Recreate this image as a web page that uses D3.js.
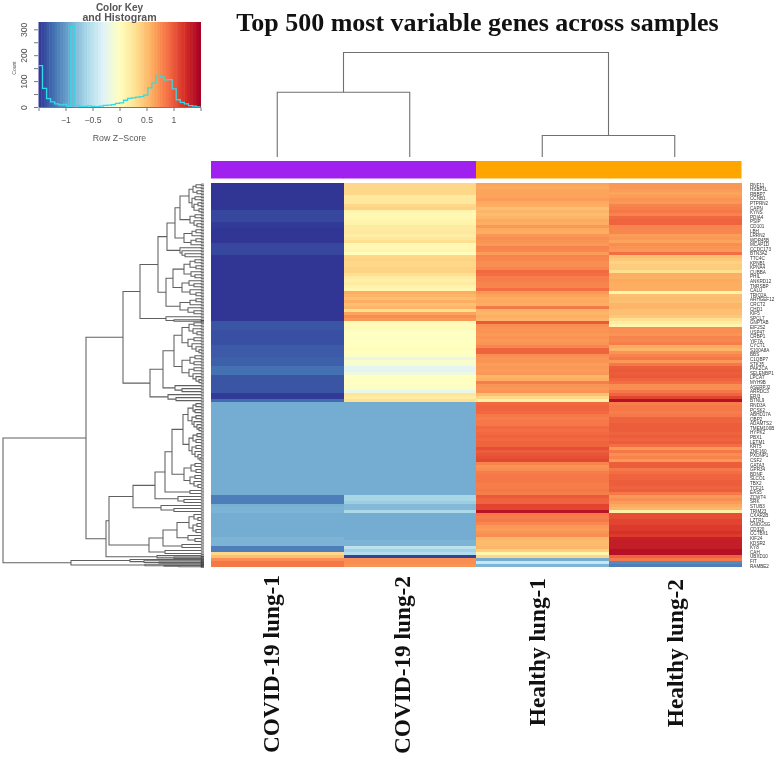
<!DOCTYPE html>
<html><head><meta charset="utf-8">
<script src="https://cdn.jsdelivr.net/npm/d3@7/dist/d3.min.js"></script>
<style>html,body{margin:0;background:#fff;overflow:hidden}svg{display:block;filter:blur(.5px)}</style>
</head><body><svg id="c" width="780" height="757"></svg>
<script>
const samples=["COVID-19 lung-1","COVID-19 lung-2","Healthy lung-1","Healthy lung-2"];
const groups=["#a020f0","#a020f0","#ffa500","#ffa500"];
const covid1=[-1.5,-1.5,-1.5,-1.5,-1.5,-1.5,-1.5,-1.5,-1.5,-1.42,
-1.42,-1.42,-1.42,-1.48,-1.48,-1.5,-1.5,-1.5,-1.5,-1.5,
-1.42,-1.42,-1.42,-1.42,-1.5,-1.5,-1.5,-1.5,-1.5,-1.5,
-1.5,-1.5,-1.5,-1.5,-1.5,-1.5,-1.5,-1.5,-1.5,-1.5,
-1.5,-1.5,-1.5,-1.5,-1.5,-1.5,-1.35,-1.35,-1.35,-1.38,
-1.38,-1.38,-1.38,-1.38,-1.33,-1.33,-1.33,-1.33,-1.3,-1.3,
-1.3,-1.22,-1.22,-1.22,-1.35,-1.35,-1.35,-1.35,-1.35,-1.35,
-1.48,-1.48,-1.25,-.9,-.9,-.9,-.9,-.9,-.9,-.9,
-.9,-.9,-.9,-.9,-.9,-.9,-.9,-.9,-.9,-.9,
-.9,-.9,-.9,-.9,-.9,-.9,-.9,-.9,-.9,-.9,
-.9,-.9,-.9,-.9,-1.15,-1.15,-1.15,-.88,-.85,-.85,
-.9,-.9,-.9,-.9,-.9,-.9,-.9,-.9,-.85,-.85,
-.85,-1.15,-1.15,.35,.5,.75,.85,.85];
const covid2=[.35,.35,.35,.35,.2,.22,.22,.35,.38,.1,
.07,.08,.1,.12,.2,.2,.22,.17,.22,.3,
.08,.07,.1,.02,.35,.38,.35,.35,.38,.38,
.3,.2,.15,.2,.12,.08,.6,.55,.5,.6,
.5,.55,.3,.65,.75,.7,.05,.03,.05,-.02,
0,-.02,0,0,0,.02,0,-.02,-.2,-.05,
-.1,-.25,-.28,-.15,0,-.02,0,-.02,-.05,-.2,
.25,.18,.3,-.9,-.9,-.9,-.9,-.9,-.9,-.9,
-.9,-.9,-.9,-.9,-.9,-.9,-.9,-.9,-.9,-.9,
-.9,-.9,-.9,-.9,-.9,-.9,-.9,-.9,-.9,-.9,
-.9,-.9,-.9,-.9,-.62,-.62,-.68,-.82,-.82,-.6,
-.9,-.9,-.9,-.9,-.9,-.9,-.9,-.9,-.9,-.85,
-.85,-.5,-.65,-.55,-1.45,.75,.75,.72];
const healthy1=[.65,.62,.65,.65,.65,.68,.62,.6,.5,.55,
.52,.55,.62,.6,.7,.62,.6,.7,.75,.72,
.7,.8,.78,.68,.8,.78,.75,.75,.78,.92,
.9,.82,.82,.8,.8,.9,.7,.65,.6,.62,
.6,.85,.58,.55,.6,.55,1.0,.75,.72,.72,
.7,.72,.7,.72,.78,.95,.95,.75,.72,.72,
.68,.7,.68,.7,.55,.6,.82,.72,.7,.72,
.5,.35,.15,.92,.95,.95,.92,.85,.82,.85,
.85,.92,.9,.92,.95,.92,.95,.95,1.05,.98,
1.02,1.05,1.08,.8,.72,.75,.82,.85,.85,.85,
.82,.82,.85,.82,1.0,.95,.95,1.1,1.1,1.38,
.85,.82,.85,.78,.7,.68,.72,.75,.55,.52,
.52,.55,.4,.1,.35,-.9,-.45,-.85];
const healthy2=[.7,.7,.68,.65,.68,.72,.7,.8,.82,.85,
.8,.92,.95,.95,.8,.78,.78,.68,.7,.65,
.75,.72,.7,.9,.5,.45,.38,.42,.42,.3,
.6,.58,.62,.6,.6,.6,.1,.5,.52,.5,
.55,.55,.5,.5,.45,.3,.18,.1,.75,.75,
.72,.8,.78,.82,.62,.55,.72,.8,.85,.7,
.85,.98,1,.98,1,.95,.9,.75,.75,.85,
.95,1.1,1.4,.82,.85,.85,.82,.85,.95,.95,
.98,.98,.98,.95,.98,.95,.98,.9,.7,.85,
.75,.8,.7,.98,.98,.85,.9,.95,.95,.98,
.98,.95,.98,.85,.7,.75,.68,.62,.55,.15,
1.05,1.05,1.1,1.1,1.15,1.15,1.2,1.15,1.3,1.32,
1.32,1.32,1.4,1.4,.95,.85,-1.1,-1.15];
const geneLabels=["RNF11","HSBP1L","RBBP7","CCNB1","PTPRN2","CAPN","KYNS","PDIA4","PSIP","CD101","LBH","LRRN2","WDR45B","MCAP1D","CCDC173","BTN3A2","TTC4C","KPNB1","KPNA4","CUBBA","PHIL","ANKRD12","TNRSBP","CALU","TRIQ2A","ARHGEF12","CRCT2","CHD1","KIF5","SPCL7","GNPTAB","EIF2S2","USP47","CRBP1","YIF7A","CYCT1","S100A8A","BBS","C1QBP7","STK35","PAK2CA","SELENBP1","LPCAT","MYH9B","ASERPJ2","ARRDC3","ERI3","BTNL9","RND3A","PCSK2","ABHD17A","OBP2","ADAMTS2","TMEM100B","HYPK2","PBX1","LETM1","KRT5","ZNF160","PXDNP1","CSF2","GATA3","GPR34","BDNF","SLCO1","TBX2","TCF21","EAS5","ZCWT4","SRK","STUB3","TRIM23","CXAR2B","LZTR1","GNDGSG","CD320","CCTBX1","KIF24","KDSR2","KY8","CAH","UBXD10","FIT","RAMBE2"];
const binStarts=[-1.5,-1.425,-1.35,-1.275,-1.2,-1.125,-1.05,-.975,-.9,-.825,-.75,-.675,-.6,-.525,-.45,-.375,-.3,-.225,-.15,-.075,0,.075,.15,.225,.3,.375,.45,.525,.6,.675,.75,.825,.9,.975,1.05,1.125,1.2,1.275,1.35,1.425,1.5];
const binCounts=[160,72,32,20,12,8,10,3,310,6,2,1,4,2,1,3,6,7,9,14,16,26,33,35,38,40,46,74,92,122,116,105,106,70,28,18,12,5,3,0,0];
const keyTicks=[-1,-.5,0,.5,1];
const countTicks=[0,50,100,150,200,250,300];
const countLabels=[0,100,200,300];
const zStops=[-1.5,-1.2,-.9,-.6,-.3,0,.3,.6,.9,1.2,1.5];
const columnTree=[100,[62,0,1],[20.6,2,3]];
const combOffsets=[-.7,.7];
const rowTree=[201,
 [118,
  [81,
   [64,
    [46,
     [37,
      [29,
       [24,
        [15,[11,[8,0,1],[7,2,3]],[12,[9,4,5],[10,[6,6,7],[5,8,9]]]],
        [14,[9,10,11],[10,12,[7,13,14]]]],
       [20,[12,[8,15,16],17],[13,[8,18,19],20]]],
      [24,21,[22,22,[19,23,24]]]],
     [38,
      [31,[20,[14,[9,25,26],[8,27,28]],[13,29,[9,30,31]]],[22,[15,32,[10,33,34]],[14,35,[8,36,37]]]],
      [24,[14,[8,38,39],40],[16,41,[10,42,43]]]]],
    [38,44,[30,45,45.5]]],
   [54,
    [41,
     [30,
      [22,[15,[10,46,47],[11,48,[7,49,50]]],[16,[10,51,52],[12,53,[8,54,[5,55,56]]]]],
      [22,[14,[9,57,58],[10,59,60]],[15,[10,61,62],[11,63,[8,64,[5,65,66]]]]]],
     [29,67,[22,68,69]]],
    [36,70,[28,71,72]]]],
  [98,
   [95,
    [71,
     [49,
      [39,
       [32,
        [21,
         [16,[11,[8,73,74],[9,75,76]],[12,[8,77,78],[10,79,[7,80,[5,81,82]]]]],
         [15,[11,[7,83,84],[8,85,86]],[12,[8,87,88],[9,89,[6,90,[4,91,92]]]]]],
        [20,[13,[9,93,94],[8,95,96]],[14,[9,97,98],[10,99,[6,100,101]]]]],
       [14,102,103]],
      [26,104,[20,105,106]]],
     [43,107,[30,108,109]]],
    [55,
     [41,
      [27,
       [15,[10,110,[6,111,112]],[11,[7,113,114],[8,115,116]]],
       [16,117,[9,118,119]]],
      [22,120,121]],
     [39,122,123]]],
   [47,123.7,[30,124.2,124.7]]]],
 [133,
  [74,125,[60,125.4,[45,125.8,126.2]]],
  [59,126.6,[40,127,[25,127.4,127]]]]];

const svg=d3.select("#c");
const rowCount=covid1.length;
const matrix=[covid1,covid2,healthy1,healthy2];
const colorOf=d3.scaleLinear().domain(zStops).range([...d3.schemeRdYlBu[11]].reverse()).clamp(true);
const xCol=d3.scaleBand().domain(d3.range(4)).range([211,741]);
const yRow=d3.scaleLinear().domain([0,rowCount]).range([183.3,567]);

// column tree
const hCol=d3.scaleLinear().domain([0,100]).range([157,52.5]);
const treeG=svg.append("g").attr("fill","none").attr("stroke","#707070").attr("stroke-width",1.1);
(function walkC(n){
  if(typeof n==="number")return{p:xCol(n)+xCol.bandwidth()/2,h:0};
  const a=walkC(n[1]),b=walkC(n[2]);
  treeG.append("path").attr("d",`M${a.p},${hCol(a.h)}V${hCol(n[0])}H${b.p}V${hCol(b.h)}`);
  return{p:(a.p+b.p)/2,h:n[0]};
})(columnTree);

// row tree
const hRow=d3.scaleLinear().domain([0,201]).range([204,3]);
const rowG=svg.append("g").attr("fill","none").attr("stroke","#606060").attr("stroke-width",1.05);
const combH=3;
(function walkR(n){
  if(typeof n==="number"){
    const y=yRow(n+.5);
    combOffsets.forEach(o=>rowG.append("path").attr("d",`M${hRow(combH)},${y}V${y+o}H${hRow(0)}`).attr("stroke","#333").attr("stroke-width",.7));
    return{y,h:combH};
  }
  const a=walkR(n[1]),b=walkR(n[2]);
  rowG.append("path").attr("d",`M${hRow(a.h)},${a.y}H${hRow(n[0])}V${b.y}H${hRow(b.h)}`);
  return{y:(a.y+b.y)/2,h:n[0]};
})(rowTree);

// side colour bar
svg.append("g").selectAll("rect").data(groups).join("rect")
 .attr("x",(d,i)=>xCol(i)).attr("y",161).attr("width",xCol.bandwidth()+.5).attr("height",17.5).attr("fill",d=>d);

// heatmap
svg.append("g").attr("shape-rendering","crispEdges").selectAll("g").data(matrix).join("g").each(function(col,j){
  d3.select(this).selectAll("rect").data(col).join("rect")
   .attr("x",xCol(j)).attr("width",xCol.bandwidth()+.5)
   .attr("y",(d,i)=>yRow(i)).attr("height",(d,i)=>yRow(i+1)-yRow(i)+.4)
   .attr("fill",d=>colorOf(d));
});

// gene labels
const yLabel=d3.scalePoint().domain(geneLabels).range([185,566]);
svg.append("g").selectAll("text").data(geneLabels).join("text")
 .attr("x",750).attr("y",d=>yLabel(d)).attr("dy","0.35em")
 .attr("font-family","Liberation Sans").attr("font-size",4.6).attr("fill","#333").text(d=>d);

// titles
svg.append("text").attr("x",477.5).attr("y",30.5).attr("text-anchor","middle")
 .attr("font-family","Liberation Serif").attr("font-weight","bold").attr("font-size",26).attr("fill","#111")
 .text("Top 500 most variable genes across samples");
const labelX=[270.5,402,537,675], labelTop=[575,576,578,579];
samples.forEach((s,i)=>svg.append("text")
 .attr("transform",`translate(${labelX[i]+8},${labelTop[i]}) rotate(-90)`).attr("text-anchor","end")
 .attr("font-family","Liberation Serif").attr("font-weight","bold").attr("font-size",23.3).attr("fill","#111").text(s));

// colour key
const xKey=d3.scaleLinear().domain([-1.5,1.5]).range([38.5,200.5]);
const yKey=d3.scaleLinear().domain([0,300]).range([107,29.3]);
const key=svg.append("g");
const keyStep=.05;
key.append("g").selectAll("rect").data(d3.range(-1.5,1.5,keyStep)).join("rect")
 .attr("x",d=>xKey(d)).attr("y",22).attr("width",xKey(keyStep)-xKey(0)+.5).attr("height",85)
 .attr("fill",d=>colorOf(d+keyStep/2));
key.append("path").attr("fill","none").attr("stroke","#30dce8").attr("stroke-width",1.3)
 .attr("d",d3.line().x((d,i)=>xKey(binStarts[i])).y(d=>yKey(d)).curve(d3.curveStepAfter)(binCounts));
const axisStyle=g=>{g.selectAll("path,line").attr("stroke","#777");g.selectAll("text").attr("fill","#555").attr("font-family","Liberation Sans").attr("font-size",8.6);};
key.append("g").attr("transform","translate(0,107)")
 .call(d3.axisBottom(xKey).tickValues(keyTicks).tickSize(4).tickFormat(d=>d<0?"−"+Math.abs(d):String(d)))
 .call(axisStyle).call(g=>g.selectAll("text").attr("dy","1.1em"));
key.append("g").attr("transform","translate(38,0)")
 .call(d3.axisLeft(yKey).tickValues(countTicks).tickSize(4).tickFormat(d=>countLabels.includes(d)?d:""))
 .call(axisStyle).call(g=>g.select(".domain").remove())
 .call(g=>g.selectAll("text").attr("text-anchor","middle").attr("x",0).attr("y",0).attr("dy",0)
   .attr("transform","translate(-11,0) rotate(-90)"));
key.append("text").attr("x",119.5).attr("y",10.5).attr("text-anchor","middle").attr("font-family","Liberation Sans").attr("font-weight","bold").attr("font-size",10).attr("fill","#555").text("Color Key");
key.append("text").attr("x",119.5).attr("y",21).attr("text-anchor","middle").attr("font-family","Liberation Sans").attr("font-weight","bold").attr("font-size",10.6).attr("fill","#555").text("and Histogram");
key.append("text").attr("x",119.5).attr("y",141).attr("text-anchor","middle").attr("font-family","Liberation Sans").attr("font-size",8.8).attr("fill","#555").text("Row Z−Score");
key.append("text").attr("transform","translate(16,68) rotate(-90)").attr("text-anchor","middle").attr("font-family","Liberation Sans").attr("font-size",5).attr("fill","#555").text("Count");
</script></body></html>
